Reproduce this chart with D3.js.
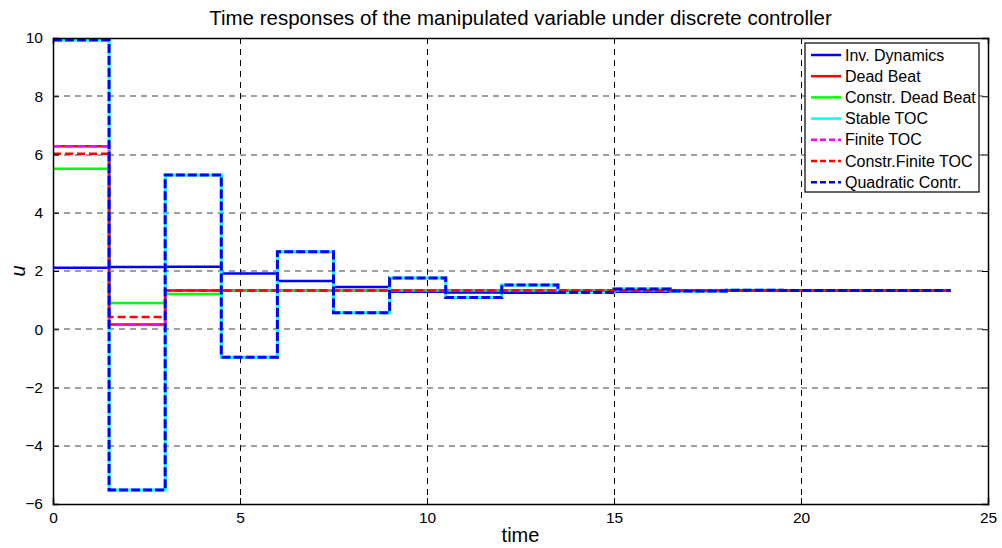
<!DOCTYPE html>
<html><head><meta charset="utf-8">
<script src="https://cdn.jsdelivr.net/npm/d3@7/dist/d3.min.js"></script>
<style>
body{margin:0;background:#fff;}
text{font-family:"Liberation Sans",Arial,sans-serif;}
</style></head>
<body><svg id="c" width="1002" height="548"></svg>
<script>
// ---- data ----
const time = [0,1.5,3,4.5,6,7.5,9,10.5,12,13.5,15,16.5,18,19.5,21,22.5,24];
const invDynamics     = [2.11,2.14,2.15,1.91,1.66,1.45,1.29,1.26,1.25,1.27,1.29,1.31,1.32,1.33,1.33,1.33,1.33];
const deadBeat        = [6.28,0.16,1.33,1.33,1.33,1.33,1.33,1.33,1.33,1.33,1.33,1.33,1.33,1.33,1.33,1.33,1.33];
const constrDeadBeat  = [5.51,0.90,1.21,1.33,1.33,1.33,1.33,1.33,1.33,1.33,1.33,1.33,1.33,1.33,1.33,1.33,1.33];
const stableTOC       = [9.93,-5.52,5.30,-0.96,2.66,0.57,1.76,1.09,1.52,1.26,1.38,1.31,1.34,1.33,1.33,1.33,1.33];
const finiteTOC       = [6.28,0.16,1.33,1.33,1.33,1.33,1.33,1.33,1.33,1.33,1.33,1.33,1.33,1.33,1.33,1.33,1.33];
const constrFiniteTOC = [6.03,0.42,1.33,1.33,1.33,1.33,1.33,1.33,1.33,1.33,1.33,1.33,1.33,1.33,1.33,1.33,1.33];
const quadratic       = [9.93,-5.52,5.30,-0.96,2.66,0.57,1.76,1.09,1.52,1.26,1.38,1.31,1.34,1.33,1.33,1.33,1.33];
const seriesNames = ["Inv. Dynamics","Dead Beat","Constr. Dead Beat","Stable TOC","Finite TOC","Constr.Finite TOC","Quadratic Contr."];
const xTicks = [0,5,10,15,20,25];
const yTicks = [-6,-4,-2,0,2,4,6,8,10];
const title = "Time responses of the manipulated variable under discrete controller";

const series = [
  {name:seriesNames[0], v:invDynamics,     color:"#0000ff", dash:null, w:2.5},
  {name:seriesNames[1], v:deadBeat,        color:"#ff0000", dash:null, w:2.5},
  {name:seriesNames[2], v:constrDeadBeat,  color:"#00ff00", dash:null, w:2.5},
  {name:seriesNames[3], v:stableTOC,       color:"#00ffff", dash:null, w:3},
  {name:seriesNames[4], v:finiteTOC,       color:"#ff00ff", dash:"8,4", w:2.5},
  {name:seriesNames[5], v:constrFiniteTOC, color:"#ff0000", dash:"8,4", w:2.5},
  {name:seriesNames[6], v:quadratic,       color:"#0000ff", dash:"9,3", w:3}
];

const L=53, R=988, T=38, B=504;
const svg = d3.select("#c");
const x = d3.scaleLinear().domain([0,25]).range([L,R]);
const y = d3.scaleLinear().domain([-6,10]).range([B,T]);

// grid
svg.append("g").selectAll("line").data(yTicks.filter(d=>d>-6&&d<10)).join("line")
  .attr("x1",L).attr("x2",R).attr("y1",d=>Math.round(y(d))).attr("y2",d=>Math.round(y(d)))
  .attr("stroke","#808080").attr("stroke-width",1.5).attr("stroke-dasharray","6,5");
svg.append("g").selectAll("line").data(xTicks.filter(d=>d>0&&d<25)).join("line")
  .attr("y1",T).attr("y2",B).attr("x1",d=>Math.round(x(d))+0.5).attr("x2",d=>Math.round(x(d))+0.5)
  .attr("stroke","#000").attr("stroke-width",1).attr("stroke-dasharray","6,5");

// lines
const line = d3.line().x((d,i)=>x(time[i])).y(d=>y(d)).curve(d3.curveStepAfter);
series.forEach(s=>{
  svg.append("path").datum(s.v).attr("d",line).attr("fill","none")
    .attr("stroke",s.color).attr("stroke-width",s.w)
    .attr("stroke-dasharray",s.dash).attr("stroke-linejoin","miter");
});

// axes (box with inward ticks)
const tl = 6;
const axB = svg.append("g").attr("transform",`translate(0,${B})`)
  .call(d3.axisBottom(x).tickValues(xTicks).tickSize(-tl).tickPadding(tl+4).tickFormat(d3.format("d")));
const axT = svg.append("g").attr("transform",`translate(0,${T})`)
  .call(d3.axisTop(x).tickValues(xTicks).tickSize(-tl).tickFormat(""));
const axL = svg.append("g").attr("transform",`translate(${L},0)`)
  .call(d3.axisLeft(y).tickValues(yTicks).tickSize(-tl).tickPadding(tl+4).tickFormat(d3.format("d")));
const axR = svg.append("g").attr("transform",`translate(${R},0)`)
  .call(d3.axisRight(y).tickValues(yTicks).tickSize(-tl).tickFormat(""));
[axB,axT,axL,axR].forEach(a=>{
  a.select(".domain").attr("stroke","#000").attr("stroke-width",1.5);
  a.selectAll(".tick line").attr("stroke","#000");
  a.selectAll("text").attr("font-size",15.5).attr("fill","#000").attr("font-family","Liberation Sans, Arial, sans-serif");
});
axB.selectAll("text").attr("dy","0.6em");

// labels
svg.append("text").attr("x",(L+R)/2).attr("y",25).attr("text-anchor","middle")
  .attr("font-size",20.5).text(title);
svg.append("text").attr("x",(L+R)/2).attr("y",542).attr("text-anchor","middle")
  .attr("font-size",20).text("time");
svg.append("text").attr("transform",`translate(25,${y(2)}) rotate(-90)`).attr("text-anchor","middle")
  .attr("font-size",20).attr("font-style","italic").text("u");

// legend
const lg = svg.append("g");
const lx=805, ly=43, lw=174, lh=149;
lg.append("rect").attr("x",lx).attr("y",ly).attr("width",lw).attr("height",lh)
  .attr("fill","#fff").attr("stroke","#000").attr("stroke-width",1.2);
series.forEach((s,i)=>{
  const yy = ly+12+i*21.2;
  lg.append("line").attr("x1",lx+6).attr("x2",lx+36).attr("y1",yy).attr("y2",yy)
    .attr("stroke",s.color).attr("stroke-width",2.5).attr("stroke-dasharray",s.dash?"6,3":null);
  lg.append("text").attr("x",lx+40).attr("y",yy).attr("dy","0.35em")
    .attr("font-size",16).text(s.name);
});
</script></body></html>
